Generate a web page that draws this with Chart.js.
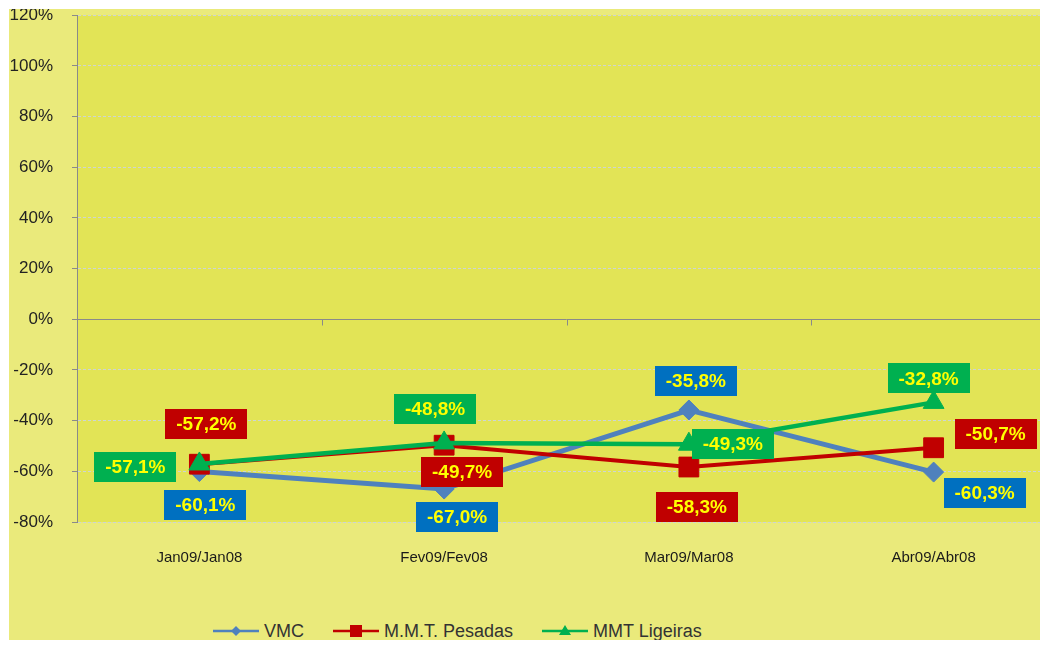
<!DOCTYPE html>
<html>
<head>
<meta charset="utf-8">
<script src="https://cdn.jsdelivr.net/npm/chart.js@4.4.1/dist/chart.umd.min.js"></script>
<style>
  html, body { margin: 0; padding: 0; background: #fff; overflow: hidden; }
  #wrap { position: absolute; left: 9px; top: 9px; width: 1100px; height: 631px; overflow: hidden; background: #eaea7b; }
  #box { position: absolute; left: 0; top: -23px; width: 1062px; height: 606px; }
  #legend { position: absolute; left: 204px; top: 611px; display: flex; align-items: center; height: 22px;
            font: 18px "Liberation Sans", Arial, sans-serif; color: #333; white-space: nowrap; }
  #legend .item { display: flex; align-items: center; margin-right: 29px; }
  #legend canvas { margin-right: 5px; }
</style>
</head>
<body>
<div id="wrap">
  <div id="box"><canvas id="trendChart"></canvas></div>
  <div id="legend"></div>
</div>
<script>
const categories = ['Jan09/Jan08', 'Fev09/Fev08', 'Mar09/Mar08', 'Abr09/Abr08'];
const vmcValues = [-60.1, -67.0, -35.8, -60.3];
const pesadasValues = [-57.2, -49.7, -58.3, -50.7];
const ligeirasValues = [-57.1, -48.8, -49.3, -32.8];
const yTicks = [-80, -60, -40, -20, 0, 20, 40, 60, 80, 100, 120];

// where each value box sits, relative to its point (px)
const vmcLabelOffsets = [[6, 33], [13, 28], [7, -29], [51, 21]];
const pesadasLabelOffsets = [[7, -40], [18, 27], [8, 40], [62, -14]];
const ligeirasLabelOffsets = [[-64, 3], [-9, -34], [44, 0], [-5, -24]];

const BLUE = '#4f81bd', RED = '#c00000', GREEN = '#00b050';

function legendMark(color, style) {
    const c = document.createElement('canvas');
    c.width = 46;
    c.height = 20;
    const g = c.getContext('2d');
    g.strokeStyle = color;
    g.lineWidth = 2.5;
    g.beginPath();
    g.moveTo(0, 10);
    g.lineTo(46, 10);
    g.stroke();
    g.fillStyle = color;
    g.beginPath();
    if (style === 'rectRot') {
        g.moveTo(23, 5); g.lineTo(28, 10); g.lineTo(23, 15); g.lineTo(18, 10);
    } else if (style === 'rect') {
        g.rect(17, 4, 12, 12);
    } else {
        g.moveTo(23, 4); g.lineTo(29, 14); g.lineTo(17, 14);
    }
    g.closePath();
    g.fill();
    return c;
}

const plotBackground = {
    id: 'plotBackground',
    beforeDraw(chart) {
        const { ctx, chartArea } = chart;
        ctx.save();
        ctx.fillStyle = '#e2e456';
        ctx.fillRect(chartArea.left, chartArea.top, chartArea.right - chartArea.left, chartArea.bottom - chartArea.top);
        ctx.restore();
    }
};

const zeroAxisPlugin = {
    id: 'zeroAxis',
    beforeDatasetsDraw(chart) {
        const { ctx, chartArea, scales } = chart;
        const y0 = Math.round(scales.y.getPixelForValue(0)) + 0.5;
        ctx.save();
        ctx.strokeStyle = '#8a8a8a';
        ctx.lineWidth = 1;
        ctx.beginPath();
        ctx.moveTo(chartArea.left, y0);
        ctx.lineTo(chartArea.right, y0);
        for (let i = 1; i < categories.length; i++) {
            const x = Math.round((scales.x.getPixelForValue(i - 1) + scales.x.getPixelForValue(i)) / 2) + 0.5;
            ctx.moveTo(x, y0);
            ctx.lineTo(x, y0 + 6);
        }
        ctx.stroke();
        ctx.restore();
    }
};

const valueBoxPlugin = {
    id: 'valueBoxes',
    afterDatasetsDraw(chart) {
        const ctx = chart.ctx;
        ctx.save();
        ctx.font = 'bold 19px "Liberation Sans", Arial, sans-serif';
        ctx.textAlign = 'center';
        ctx.textBaseline = 'middle';
        chart.data.datasets.forEach((ds, di) => {
            const meta = chart.getDatasetMeta(di);
            meta.data.forEach((pt, i) => {
                const [dx, dy] = ds.labelOffsets[i];
                const cx = pt.x + dx, cy = pt.y + dy;
                ctx.fillStyle = ds.labelColor;
                ctx.fillRect(Math.round(cx - 41), Math.round(cy - 15), 82, 30);
                ctx.fillStyle = '#ffff00';
                ctx.fillText(ds.data[i].toFixed(1).replace('.', ',') + '%', cx, cy + 1);
            });
        });
        ctx.restore();
    }
};

const ctx = document.getElementById('trendChart').getContext('2d');
const chart = new Chart(ctx, {
    type: 'line',
    data: {
        labels: categories,
        datasets: [
            {
                label: 'VMC',
                data: vmcValues,
                borderColor: BLUE,
                backgroundColor: BLUE,
                borderWidth: 5,
                pointStyle: 'rectRot',
                pointRadius: 10,
                pointBorderWidth: 1,
                labelColor: '#0070c0',
                labelOffsets: vmcLabelOffsets,
                order: 3
            },
            {
                label: 'M.M.T. Pesadas',
                data: pesadasValues,
                borderColor: RED,
                backgroundColor: RED,
                borderWidth: 4,
                pointStyle: 'rect',
                pointRadius: 14,
                pointBorderWidth: 1,
                labelColor: '#c00000',
                labelOffsets: pesadasLabelOffsets,
                order: 2
            },
            {
                label: 'MMT Ligeiras',
                data: ligeirasValues,
                borderColor: GREEN,
                backgroundColor: GREEN,
                borderWidth: 4.5,
                pointStyle: 'triangle',
                pointRadius: 12,
                pointBorderWidth: 1,
                labelColor: '#00b050',
                labelOffsets: ligeirasLabelOffsets,
                order: 1
            }
        ]
    },
    options: {
        responsive: true,
        maintainAspectRatio: false,
        animation: false,
        events: [],
        layout: { padding: { top: 3, right: 10, left: 0, bottom: 0 } },
        plugins: {
            tooltip: { enabled: false },
            legend: { display: false }
        },
        scales: {
            x: {
                offset: true,
                grid: { display: false, drawTicks: false },
                border: { display: false },
                ticks: {
                    padding: 27,
                    color: '#1a1a1a',
                    font: { family: '"Liberation Sans", Arial, sans-serif', size: 15 }
                },
                afterFit(scale) { scale.height = 70; }
            },
            y: {
                min: yTicks[0],
                max: yTicks[yTicks.length - 1],
                ticks: {
                    stepSize: yTicks[1] - yTicks[0],
                    padding: 19,
                    color: '#222',
                    font: { family: '"Liberation Sans", Arial, sans-serif', size: 17 },
                    callback: v => v + '%'
                },
                grid: {
                    color: c => (c.tick && c.tick.value === 0 ? 'rgba(0,0,0,0)' : '#cdd4d4'),
                    tickColor: '#8a8a8a',
                    tickLength: 5
                },
                border: { color: '#8a8a8a', dash: [3, 2] },
                afterFit(scale) { scale.width = 68; }
            }
        }
    },
    plugins: [plotBackground, zeroAxisPlugin, valueBoxPlugin]
});

// legend: line with marker, then series name
const legendEl = document.getElementById('legend');
chart.data.datasets.forEach(ds => {
    const item = document.createElement('div');
    item.className = 'item';
    item.appendChild(legendMark(ds.borderColor, ds.pointStyle));
    const span = document.createElement('span');
    span.textContent = ds.label;
    item.appendChild(span);
    legendEl.appendChild(item);
});
</script>
</body>
</html>
